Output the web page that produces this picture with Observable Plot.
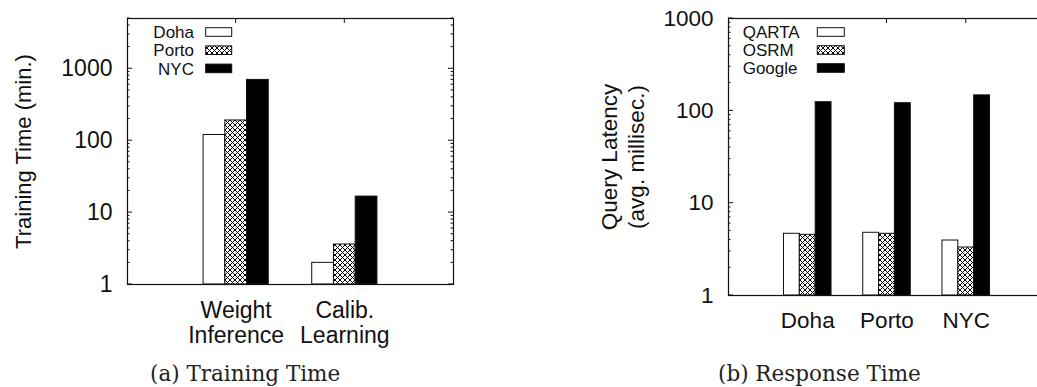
<!DOCTYPE html>
<html><head><meta charset="utf-8">
<script src="https://cdn.jsdelivr.net/npm/d3@7"></script>
<script src="https://cdn.jsdelivr.net/npm/@observablehq/plot@0.6"></script>
<style>
html,body{margin:0;padding:0;background:#fff;overflow:hidden;width:1037px;height:387px;}
#a,#b{position:absolute;top:0;}
#a{left:0px;width:500px} #b{left:560px;width:490px}
#a svg,#b svg{max-width:none !important;}
.cap{position:absolute;font-family:"DejaVu Serif",serif;font-size:21.5px;line-height:22px;color:#222;white-space:nowrap;}
</style></head><body>
<svg width="0" height="0" style="position:absolute">
  <defs>
    <pattern id="xhatch" patternUnits="userSpaceOnUse" width="5" height="5">
      <rect width="5" height="5" fill="white"/>
      <path d="M0,0L5,5M5,0L0,5" stroke="black" stroke-width="1.1" shape-rendering="crispEdges"/>
    </pattern>
  </defs>
</svg>
<div id="a"></div><div id="b"></div>
<div class="cap" style="left:150px;top:363px">(a) Training Time</div>
<div class="cap" style="left:718px;top:363px">(b) Response Time</div>
<script>
// ---- Panel (a): training time ----
const phasesA = ["Weight\nInference", "Calib.\nLearning"];
const citiesA = ["Doha", "Porto", "NYC"];
const trainDoha = [120, 2.0];
const trainPorto = [191, 3.6];
const trainNYC = [700, 16.7];
const yTicksA = [1, 10, 100, 1000];
const yLabelA = "Training Time (min.)";

// ---- Panel (b): response time ----
const citiesB = ["Doha", "Porto", "NYC"];
const systemsB = ["QARTA", "OSRM", "Google"];
const latQARTA = [4.66, 4.78, 3.94];
const latOSRM = [4.54, 4.66, 3.31];
const latGoogle = [124, 121, 147];
const yTicksB = [1, 10, 100, 1000];
const yLabelB = "Query Latency\n(avg. millisec.)";

const FILLS = ["white", "url(#xhatch)", "black"];
const FONT = "'Liberation Sans', Arial, Helvetica, sans-serif";
const BW = 0.2;

function rowsOf(cats, seriesNames, seriesVals) {
  const rows = [];
  cats.forEach((c, i) => seriesNames.forEach((s, j) => rows.push({i, j, cat: c, series: s, value: seriesVals[j][i]})));
  return rows;
}

function minorTicks(domain) {
  const out = [];
  for (let d = 1; d <= domain[1]; d *= 10)
    for (let m = 2; m <= 9; m++) if (d * m <= domain[1]) out.push(d * m);
  return out;
}

function decorations({majors, minors, topTicks, rightSide, legend}) {
  return (index, scales, values, dim) => {
    const {x, y} = scales;
    const L = dim.marginLeft, R = dim.width - dim.marginRight, T = dim.marginTop;
    const g = d3.create("svg:g").attr("stroke", "#111").attr("stroke-width", 1);
    const sides = rightSide ? [[L, 1], [R, -1]] : [[L, 1]];
    for (const [sx, dir] of sides) {
      for (const v of majors) g.append("line").attr("x1", sx).attr("x2", sx + dir * 5).attr("y1", y(v)).attr("y2", y(v));
      for (const v of minors) g.append("line").attr("x1", sx).attr("x2", sx + dir * 2.5).attr("y1", y(v)).attr("y2", y(v));
    }
    for (const t of topTicks) g.append("line").attr("x1", x(t)).attr("x2", x(t)).attr("y1", T).attr("y2", T + 5);
    // legend (opaque box)
    const lg = g.append("g").attr("transform", `translate(${L},${T})`);
    lg.append("rect").attr("x", legend.boxX0).attr("y", 1).attr("width", legend.boxX1 - legend.boxX0).attr("height", 60)
      .attr("fill", "white").attr("stroke", "none");
    legend.names.forEach((name, k) => {
      const cy = legend.row0 + k * legend.rowStep;
      lg.append("text").attr("x", legend.textX).attr("y", cy).attr("dy", "0.36em")
        .attr("text-anchor", legend.anchor).attr("stroke", "none").attr("fill", "#111")
        .attr("font-size", 17).attr("font-family", FONT).text(name);
      lg.append("rect").attr("x", legend.keyX0).attr("y", cy - 4.3).attr("width", legend.keyX1 - legend.keyX0).attr("height", 8.6)
        .attr("fill", FILLS[k]).attr("stroke", "#111").attr("stroke-width", 1);
    });
    return g.node();
  };
}

function panel({cats, seriesNames, seriesVals, yTicks, yDomain, xDomain, width, height, margins, yLabel, yLabelDx, labelSize, labelLineHeight, fontSize, xPad, topTicks, rightSide, legend}) {
  const rows = rowsOf(cats, seriesNames, seriesVals);
  return Plot.plot({
    width, height, ...margins,
    style: {fontFamily: FONT, fontSize: fontSize + "px", color: "#111", background: "white"},
    x: {type: "linear", domain: xDomain, axis: null},
    y: {type: "log", domain: yDomain, axis: null},
    color: {domain: seriesNames, range: FILLS},
    marks: [
      Plot.rect(rows, {
        x1: d => d.i - 1.5 * BW + d.j * BW,
        x2: d => d.i - 0.5 * BW + d.j * BW,
        y1: yDomain[0], y2: "value",
        fill: "series", stroke: "#111", strokeWidth: 1
      }),
      Plot.axisY({ticks: yTicks, tickSize: 0, tickPadding: 15, tickFormat: d => String(d), fontSize, label: null}),
      Plot.axisX({ticks: cats.map((c, i) => i), tickSize: 0, tickPadding: xPad, tickFormat: i => cats[i], fontSize, lineHeight: 1.11, label: null}),
      Plot.text([yLabel], {frameAnchor: "left", text: d => d, rotate: -90, dx: yLabelDx, textAnchor: "middle", lineAnchor: "middle", fontSize: labelSize, lineHeight: labelLineHeight, fill: "#111"}),
      decorations({majors: yTicks, minors: minorTicks(yDomain), topTicks, rightSide, legend}),
      Plot.frame({stroke: "#111", strokeWidth: 1.2})
    ]
  });
}

document.getElementById("a").append(panel({
  cats: phasesA, seriesNames: citiesA, seriesVals: [trainDoha, trainPorto, trainNYC],
  yTicks: yTicksA, yDomain: [1, 5000], xDomain: [-1, 2],
  width: 500, height: 360,
  margins: {marginLeft: 127, marginRight: 47, marginTop: 18, marginBottom: 76},
  yLabel: yLabelA, yLabelDx: -105, labelSize: 22, labelLineHeight: 1.2, fontSize: 23, xPad: 15,
  topTicks: [0, 1], rightSide: true,
  legend: {names: citiesA, anchor: "end", textX: 67, keyX0: 78.7, keyX1: 104.7, row0: 14, rowStep: 18.2, boxX0: 20, boxX1: 106.5}
}));

document.getElementById("b").append(panel({
  cats: citiesB, seriesNames: systemsB, seriesVals: [latQARTA, latOSRM, latGoogle],
  yTicks: yTicksB, yDomain: [1, 1000], xDomain: [-1, 3],
  width: 490, height: 360,
  margins: {marginLeft: 168, marginRight: 5, marginTop: 18, marginBottom: 65},
  yLabel: yLabelB, yLabelDx: -106.5, labelSize: 22.5, labelLineHeight: 1.2, fontSize: 22.5, xPad: 15,
  topTicks: [0, 1, 2], rightSide: false,
  legend: {names: systemsB, anchor: "start", textX: 14.7, keyX0: 89.3, keyX1: 116.3, row0: 14, rowStep: 18, boxX0: 10, boxX1: 119}
}));
</script>
</body></html>
